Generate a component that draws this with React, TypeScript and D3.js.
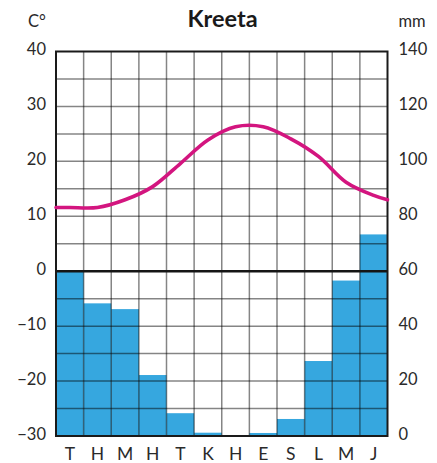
import { useEffect, useRef } from "react";
import * as d3 from "d3";

// Kreeta climate chart: temperature (C°) line + precipitation (mm) bars
const months = ["T", "H", "M", "H", "T", "K", "H", "E", "S", "L", "M", "J"];
const temperature = [11.6, 11.6, 13, 15.4, 19.6, 23.9, 26.3, 26.3, 24.1, 20.9, 16.2, 13.8];
// where the curve meets the left and right frame
const tempStart = 11.6;
const tempEnd = 13.0;
const precipitation = [60, 48.3, 46.2, 22.2, 8.3, 1.2, 0, 1.1, 6.2, 27.3, 56.6, 73.4];
const tempTicks = [40, 30, 20, 10, 0, -10, -20, -30];
const precTicks = [140, 120, 100, 80, 60, 40, 20, 0];

const W = 437;
const H = 463;
const FONT = "Lato, 'Open Sans', sans-serif";

export default function App() {
  const svgRef = useRef<SVGSVGElement>(null);

  useEffect(() => {
    if (!svgRef.current) return;
    const svg = d3.select(svgRef.current);
    svg.selectAll("*").remove();

    const left = 56;
    const right = 387.5;
    const top = 51.5;
    const bottom = 436;

    const x = d3
      .scaleBand<number>()
      .domain(d3.range(months.length))
      .range([left, right])
      .padding(0);
    const xLine = d3.scaleLinear().domain([0, months.length]).range([left, right]);
    const yT = d3.scaleLinear().domain([-30, 40]).range([bottom, top]);
    const yP = d3.scaleLinear().domain([0, 140]).range([bottom, top]);

    // Precipitation bars
    svg
      .append("g")
      .selectAll("rect")
      .data(precipitation)
      .join("rect")
      .attr("x", (_, i) => x(i)!)
      .attr("width", x.bandwidth())
      .attr("y", (d) => yP(d))
      .attr("height", (d) => yP(0) - yP(d))
      .attr("fill", "#36a7df");

    // Grid (semi-transparent so it darkens over the bars)
    const grid = svg.append("g").attr("stroke", "#000").attr("stroke-opacity", 0.48).attr("stroke-width", 1.5);
    grid
      .selectAll("line.v")
      .data(d3.range(1, months.length))
      .join("line")
      .attr("class", "v")
      .attr("x1", (d) => xLine(d))
      .attr("x2", (d) => xLine(d))
      .attr("y1", top)
      .attr("y2", bottom);
    grid
      .selectAll("line.h")
      .data(d3.range(-25, 40, 5).filter((d) => d !== 0))
      .join("line")
      .attr("class", "h")
      .attr("x1", left)
      .attr("x2", right)
      .attr("y1", (d) => yT(d))
      .attr("y2", (d) => yT(d));

    // Zero line
    svg
      .append("line")
      .attr("x1", left)
      .attr("x2", right)
      .attr("y1", yT(0))
      .attr("y2", yT(0))
      .attr("stroke", "#151515")
      .attr("stroke-width", 2.5);

    // Frame
    svg
      .append("rect")
      .attr("x", left)
      .attr("y", top)
      .attr("width", right - left)
      .attr("height", bottom - top)
      .attr("fill", "none")
      .attr("stroke", "#1a1a1a")
      .attr("stroke-width", 2);

    // Temperature curve
    const pts: [number, number][] = [
      [0, tempStart],
      ...temperature.map((t, i) => [i + 0.5, t] as [number, number]),
      [months.length, tempEnd],
    ];
    const line = d3
      .line<[number, number]>()
      .x((d) => xLine(d[0]))
      .y((d) => yT(d[1]))
      .curve(d3.curveCatmullRom.alpha(0.5));
    svg
      .append("path")
      .datum(pts)
      .attr("d", line)
      .attr("fill", "none")
      .attr("stroke", "#d3157f")
      .attr("stroke-width", 3.6)
      .attr("stroke-linecap", "round");

    const text = svg.append("g").attr("font-family", FONT).attr("fill", "#2a2a2a");

    // Left axis labels
    text
      .selectAll("text.lt")
      .data(tempTicks)
      .join("text")
      .attr("class", "lt")
      .attr("x", 46)
      .attr("y", (d) => yT(d) + 3.8)
      .attr("text-anchor", "end")
      .attr("font-size", 16.5)
      .text((d) => (d < 0 ? "\u2212" + Math.abs(d) : String(d)));

    // Right axis labels
    text
      .selectAll("text.rt")
      .data(precTicks)
      .join("text")
      .attr("class", "rt")
      .attr("x", 398.5)
      .attr("y", (d) => yP(d) + 3.8)
      .attr("font-size", 16.5)
      .text((d) => String(d));

    // Month labels
    text
      .selectAll("text.m")
      .data(months)
      .join("text")
      .attr("class", "m")
      .attr("x", (_, i) => x(i)! + x.bandwidth() / 2)
      .attr("y", 460)
      .attr("text-anchor", "middle")
      .attr("font-size", 17.5)
      .text((d) => d);

    // Units and title
    text.append("text").attr("x", 28).attr("y", 27).attr("font-size", 16.5).text("C°");
    text.append("text").attr("x", 398.5).attr("y", 27).attr("font-size", 16.5).text("mm");
    text
      .append("text")
      .attr("x", 222.5)
      .attr("y", 27)
      .attr("text-anchor", "middle")
      .attr("font-size", 23.5)
      .attr("font-weight", 700)
      .attr("fill", "#1a1a1a")
      .text("Kreeta");
  }, []);

  return (
    <svg
      ref={svgRef}
      width={W}
      height={H}
      viewBox={`0 0 ${W} ${H}`}
      style={{ position: "absolute", left: 0, top: 0, background: "#fff" }}
    />
  );
}
